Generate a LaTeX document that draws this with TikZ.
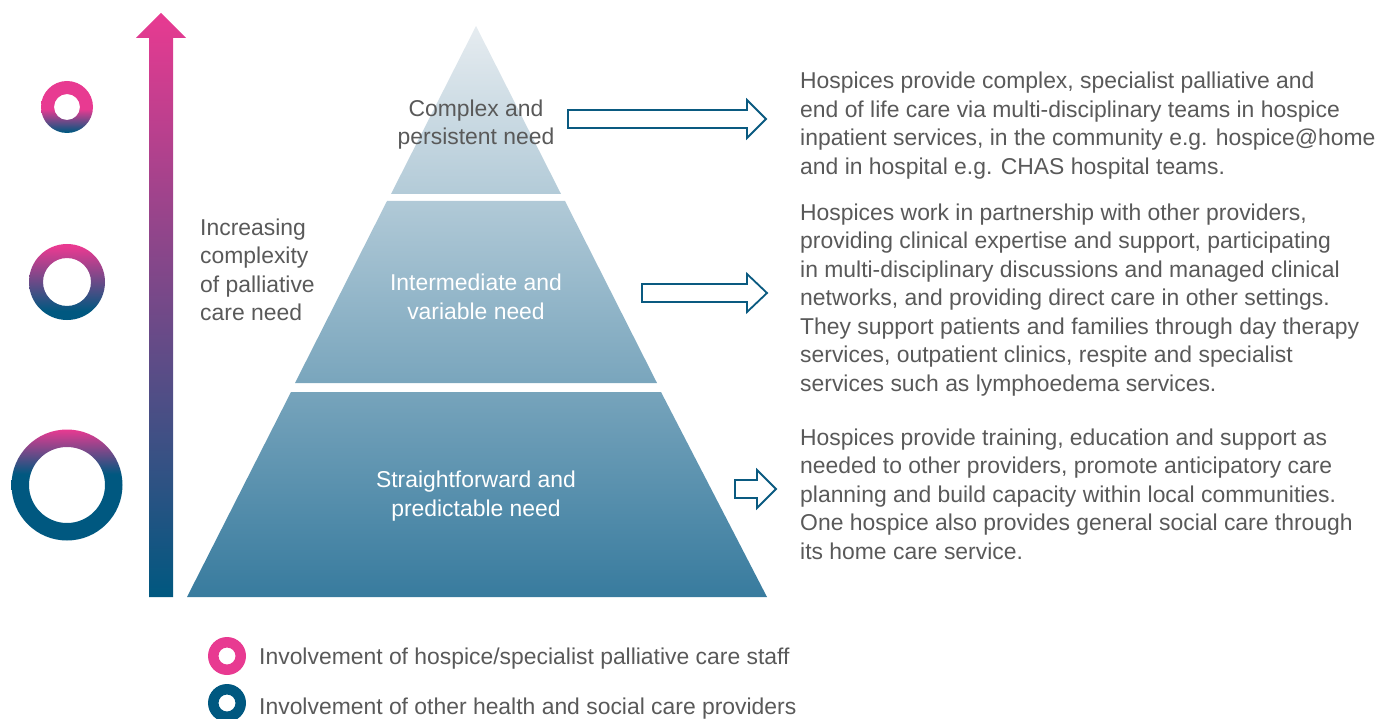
\documentclass[tikz,border=0pt]{standalone}
\usepackage{fontspec}
\setmainfont{Liberation Sans}
\usetikzlibrary{positioning}

\definecolor{txtgray}{RGB}{89,89,89}
\definecolor{hpink}{RGB}{232,58,145}
\definecolor{hblue}{RGB}{0,88,128}
\definecolor{pyrtop}{RGB}{230,236,240}
\definecolor{pyrbot}{RGB}{56,123,158}
\definecolor{arrblue}{RGB}{10,90,128}

\pgfdeclareverticalshading{ringsmall}{100bp}{color(0bp)=(hblue); color(26bp)=(hblue); color(48bp)=(hpink); color(100bp)=(hpink)}
\pgfdeclareverticalshading{ringmid}{100bp}{color(0bp)=(hblue); color(31bp)=(hblue); color(73bp)=(hpink); color(100bp)=(hpink)}
\pgfdeclareverticalshading{ringbig}{100bp}{color(0bp)=(hblue); color(55bp)=(hblue); color(75bp)=(hpink); color(100bp)=(hpink)}

\newcommand{\hollowarrow}[4]{% start, head base, tip, y
  \draw[hollow] (#1,#4-9) -- (#2,#4-9) -- (#2,#4-19) -- (#3,#4) -- (#2,#4+19) -- (#2,#4+9) -- (#1,#4+9) -- cycle;}

\begin{document}
\begin{tikzpicture}[x=1pt,y=-1pt,
  txt/.style={font=\fontsize{22.9}{28.5}\selectfont, text=txtgray, inner sep=0pt, align=left, anchor=base west},
  lvl/.style={font=\fontsize{22.9}{28.5}\selectfont, inner sep=0pt, align=center, anchor=base},
  hollow/.style={draw=arrblue, line width=1.8pt, fill=white, line join=miter}]
\useasboundingbox (0,0) rectangle (1380,719);

% pyramid
\begin{scope}
  \clip (476,26) -- (391,194) -- (561,194) -- cycle
        (387,201) -- (565,201) -- (657,383) -- (295,383) -- cycle
        (291,392) -- (661,392) -- (767,597) -- (187,597) -- cycle;
  \shade[top color=pyrtop, bottom color=pyrbot] (187,26) rectangle (767,597);
\end{scope}
\node[lvl, text=txtgray] (complex) at (476,145) {Complex and\\persistent need};
\node[lvl, text=white] (interm) at (476,319) {Intermediate and\\variable need};
\node[lvl, text=white] (straight) at (476,516) {Straightforward and\\predictable need};

% complexity arrow and rings
\shade[top color=hpink, bottom color=hblue] (149,597) -- (149,38) -- (136,38) -- (161,13)
  -- (186,38) -- (173,38) -- (173,597) -- cycle;
\node[txt] (incr) at (200,320.5) {Increasing\\complexity\\of palliative\\care need};
\coordinate (ringA) at (67,107);
\coordinate (ringB) at (67,282);
\coordinate (ringC) at (67,485);
\shade[shading=ringsmall, even odd rule] (ringA) circle (26pt) (ringA) circle (13pt);
\shade[shading=ringmid, even odd rule] (ringB) circle (38pt) (ringB) circle (24pt);
\shade[shading=ringbig, even odd rule] (ringC) circle (55.5pt) (ringC) circle (38pt);

% arrows and descriptions
\hollowarrow{568}{747}{766}{119}
\hollowarrow{642}{747}{767}{293}
\hollowarrow{735}{757}{776}{489}
\node[txt] (specialist) at (800,174.5) {Hospices provide complex, specialist palliative and\\end of life care via multi-disciplinary teams in hospice\\inpatient services, in the community e.g. hospice@home\\and in hospital e.g. CHAS hospital teams.};
\node[txt] (partner) at (800,391) {Hospices work in partnership with other providers,\\providing clinical expertise and support, participating\\in multi-disciplinary discussions and managed clinical\\networks, and providing direct care in other settings.\\They support patients and families through day therapy\\services, outpatient clinics, respite and specialist\\services such as lymphoedema services.};
\node[txt] (training) at (800,559) {Hospices provide training, education and support as\\needed to other providers, promote anticipatory care\\planning and build capacity within local communities.\\One hospice also provides general social care through\\its home care service.};

% legend
\coordinate (keyA) at (227,656);
\coordinate (keyB) at (227,703);
\fill[hpink, even odd rule] (keyA) circle (19pt) (keyA) circle (8.5pt);
\fill[hblue, even odd rule] (keyB) circle (19pt) (keyB) circle (8.5pt);
\node[txt] (keyAtxt) at (259,664) {Involvement of hospice/specialist palliative care staff};
\node[txt] (keyBtxt) at (259,714) {Involvement of other health and social care providers};
\end{tikzpicture}
\end{document}
